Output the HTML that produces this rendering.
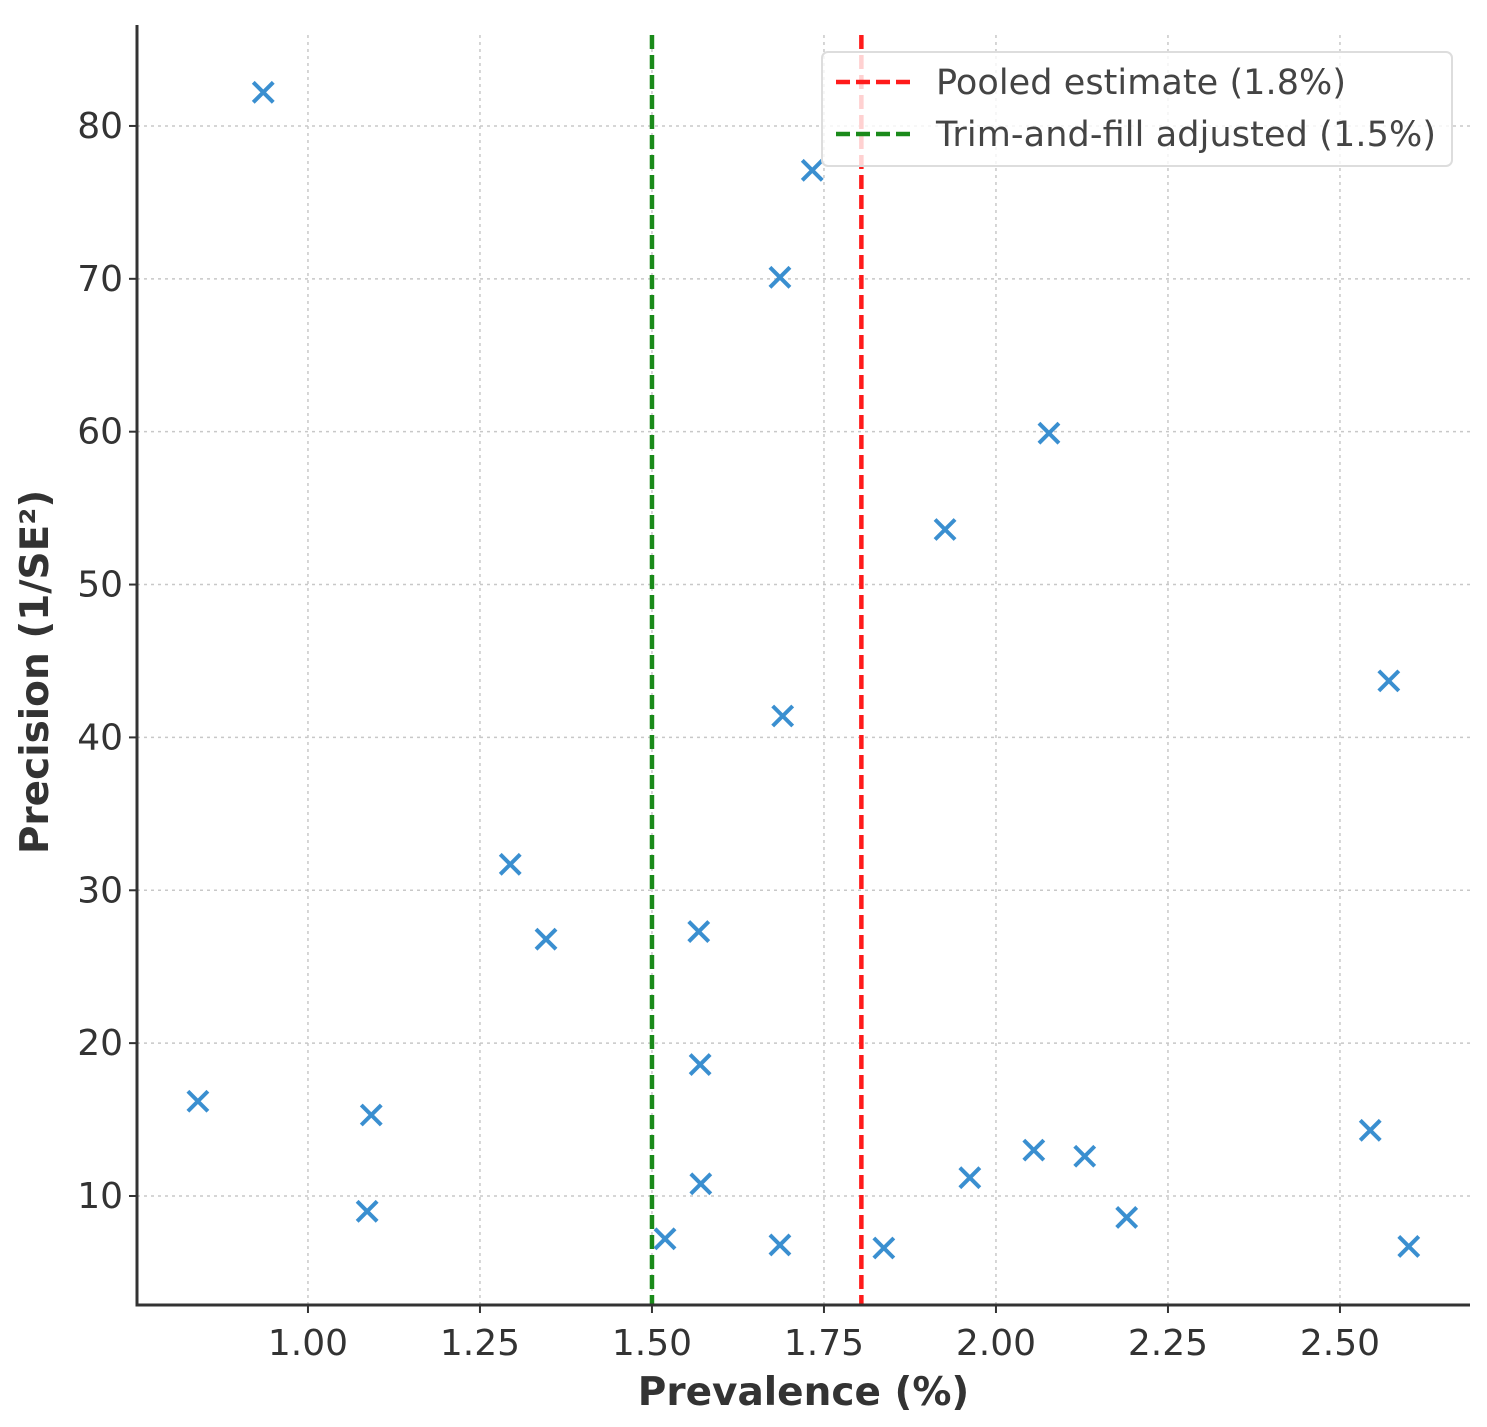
<!DOCTYPE html>
<html><head><meta charset="utf-8"><style>
html,body{margin:0;padding:0;background:#fff;}
svg{display:block;font-family:"DejaVu Sans","Liberation Sans",sans-serif;}
</style></head><body>
<svg id="chart" width="1487" height="1427" viewBox="0 0 1487 1427" xmlns="http://www.w3.org/2000/svg">
<g id="grid"></g>
<g id="vlines"></g>
<g id="points"></g>
<g id="axes"></g>
<g id="legend"></g>
</svg>
<script>
const prevalence = [0.935,0.840,1.092,1.086,1.294,1.346,1.568,1.570,1.571,1.519,1.686,1.686,1.733,1.690,1.837,1.926,2.077,1.962,2.055,2.129,2.190,2.544,2.571,2.600];
const precision  = [82.2,16.2,15.3,9.0,31.7,26.8,27.3,18.6,10.8,7.2,6.8,70.1,77.1,41.4,6.6,53.6,59.9,11.2,13.0,12.6,8.6,14.3,43.7,6.7];
const xTicks = [1.00,1.25,1.50,1.75,2.00,2.25,2.50];
const yTicks = [10,20,30,40,50,60,70,80];
const pooled = 1.8;
const adjusted = 1.5;

const L=137,R=1470,T=35,B=1305;
const xMin=0.7515,xMax=2.689,yMin=2.87,yMax=85.95;
const sx=v=>L+(v-xMin)/(xMax-xMin)*(R-L);
const sy=v=>B-(v-yMin)/(yMax-yMin)*(B-T);
const NS="http://www.w3.org/2000/svg";
function mk(tag,attrs,parent){const e=document.createElementNS(NS,tag);for(const k in attrs)e.setAttribute(k,attrs[k]);parent.appendChild(e);return e;}
const grid=document.getElementById('grid'),axes=document.getElementById('axes'),pts=document.getElementById('points'),vl=document.getElementById('vlines'),lg=document.getElementById('legend');

xTicks.forEach(t=>{
  const x=sx(t);
  const g=mk('line',{x1:x,x2:x,y1:T,y2:B,stroke:'#c8c8c8','stroke-width':1.5,'stroke-dasharray':'3,4'},grid);
  
  
  const tk=mk('line',{x1:x,x2:x,y1:B,y2:B+8,stroke:'#333','stroke-width':2},axes);
  
  
  const tx=mk('text',{x:x,y:B+50,'text-anchor':'middle','font-size':36,fill:'#333'},axes);
  tx.textContent=t.toFixed(2);
  
  
});
yTicks.forEach(t=>{
  const y=sy(t);
  const g=mk('line',{x1:L,x2:R,y1:y,y2:y,stroke:'#c8c8c8','stroke-width':1.5,'stroke-dasharray':'3,4'},grid);
  
  
  const tk=mk('line',{x1:L-8,x2:L,y1:y,y2:y,stroke:'#333','stroke-width':2},axes);
  
  
  const tx=mk('text',{x:L-14,y:y+12,'text-anchor':'end','font-size':36,fill:'#333'},axes);
  tx.textContent=t;
  
  
});
const ax=mk('path',{d:`M${L},${T-10} L${L},${B} L${R},${B}`,fill:'none',stroke:'#333','stroke-width':3},axes);


const xl=mk('text',{x:(L+R)/2+0,y:1405,'text-anchor':'middle','font-size':39,'font-weight':'bold',fill:'#333'},axes);
xl.textContent='Prevalence (%)';


const yl=mk('text',{x:0,y:0,transform:`translate(48,672) rotate(-90)`,'text-anchor':'middle','font-size':39,'font-weight':'bold',fill:'#333'},axes);
yl.textContent='Precision (1/SE²)';



const r1=mk('line',{x1:sx(pooled)+3,x2:sx(pooled)+3,y1:T,y2:B,stroke:'#ff1a1a','stroke-width':4.5,'stroke-dasharray':'14,6'},vl);


const r2=mk('line',{x1:sx(adjusted),x2:sx(adjusted),y1:T,y2:B,stroke:'#1a8a1a','stroke-width':4.5,'stroke-dasharray':'14,6'},vl);



prevalence.forEach((p,i)=>{
  const x=sx(p),y=sy(precision[i]),s=10;
  const m=mk('path',{d:`M${x-s},${y-s}L${x+s},${y+s}M${x-s},${y+s}L${x+s},${y-s}`,stroke:'#3a8fd0','stroke-width':4,fill:'none'},pts);
  
  
});

const box=mk('rect',{x:822,y:52,width:630,height:114,rx:6,fill:'rgba(255,255,255,0.8)',stroke:'#ddd','stroke-width':2},lg);


[['Pooled estimate (1.8%)','#ff1a1a',82],['Trim-and-fill adjusted (1.5%)','#1a8a1a',134]].forEach(([t,c,y])=>{
  const l=mk('line',{x1:836,x2:910,y1:y,y2:y,stroke:c,'stroke-width':4.5,'stroke-dasharray':'14,6'},lg);
  
  
  const tx=mk('text',{x:936,y:y+12,'font-size':35,fill:'#444','textLength':t.length>24?500:410},lg);
  tx.textContent=t;
  
  
});
</script>
</body></html>
